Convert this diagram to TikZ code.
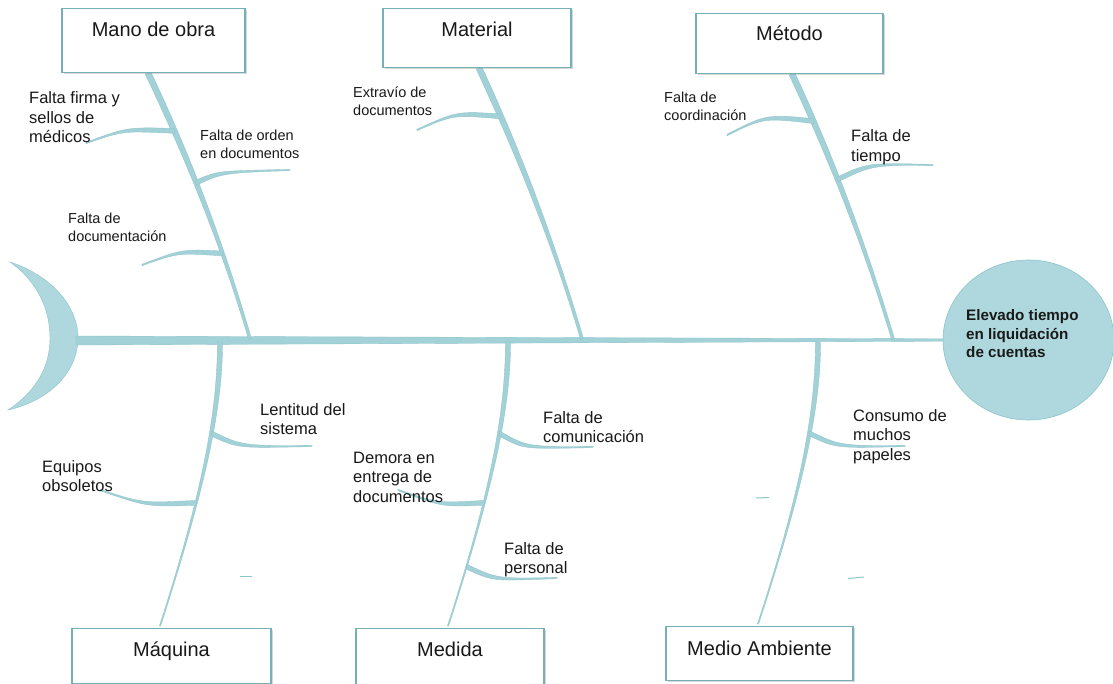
\documentclass[tikz,border=0pt]{standalone}
\usepackage{fontspec}
\setmainfont{Liberation Sans}
\usetikzlibrary{calc,shadows,shapes.geometric}
\definecolor{bonec}{RGB}{162,209,215}
\definecolor{boneedge}{RGB}{140,196,203}
\definecolor{headc}{RGB}{174,216,221}
\definecolor{boxedge}{RGB}{118,176,183}
\definecolor{txt}{RGB}{25,25,25}
\newcommand\taper[7]{%
  \fill[#1] let \p1=(#2), \p2=(#3), \p3=(#4), \p4=(#5),
    \n1={atan2(\y4-\y1,\x4-\x1)+90} in
    ($(\p1)+(\n1:#6)$) .. controls ($(\p2)+(\n1:#6)$) and ($(\p3)+(\n1:#7)$) .. ($(\p4)+(\n1:#7)$)
    -- ($(\p4)-(\n1:#7)$) .. controls ($(\p3)-(\n1:#7)$) and ($(\p2)-(\n1:#6)$) .. ($(\p1)-(\n1:#6)$) -- cycle;}
\begin{document}
\begin{tikzpicture}[x=1pt,y=-1pt,
  bonefill/.style={fill=bonec, draw=boneedge, line width=0.35pt},
  boxst/.style={draw=boxedge, line width=1.4pt, fill=white, inner sep=0pt, anchor=north,
    text height=14pt, font=\fontsize{20}{24}\selectfont, text=txt,
    drop shadow={shadow xshift=1.5pt, shadow yshift=-1.5pt, opacity=0.3, fill=gray}},
  lab/.style={anchor=base west, align=left, inner sep=0pt, text=txt, font=\fontsize{16.5}{19.5}\selectfont},
  labs/.style={anchor=base west, align=left, inner sep=0pt, text=txt, font=\fontsize{14.5}{17.5}\selectfont},
  dashst/.style={draw=boneedge, line width=1pt}]
\useasboundingbox (0,0) rectangle (1113,684);
\fill[white] (0,0) rectangle (1113,684);

% tail
\fill[headc, draw=boneedge, line width=0.4pt] (10,262) .. controls (50,275) and (78,305) .. (78,338)
  .. controls (78,370) and (52,400) .. (8,410) .. controls (38,390) and (50,365) .. (50,338)
  .. controls (50,310) and (38,282) .. (10,262) -- cycle;
\coordinate (tail) at (76,340.5);

% head
\node[ellipse, fill=headc, draw=boneedge, line width=0.6pt, minimum width=171pt, minimum height=160pt, inner sep=0pt] (head) at (1028.5,340) {};

% spine
\taper{bonefill}{tail}{tail}{head.west}{head.west}{4.5pt}{1.2pt}

% top bones
\coordinate (mano-s) at (148,73);
\coordinate (mano-c1) at (189.3,159.7);
\coordinate (mano-c2) at (223.3,247.3);
\coordinate (mano-j) at (250,339);
\path (mano-s) .. controls (mano-c1) and (mano-c2) .. (mano-j)
  coordinate[pos=0.222] (m1) coordinate[pos=0.419] (m2) coordinate[pos=0.685] (m3);
\taper{bonefill}{mano-s}{mano-c1}{mano-c2}{mano-j}{3pt}{1.5pt}

\coordinate (mat-s) at (479,68);
\coordinate (mat-c1) at (520.7,157.7);
\coordinate (mat-c2) at (555,247.3);
\coordinate (mat-j) at (582,339);
\path (mat-s) .. controls (mat-c1) and (mat-c2) .. (mat-j) coordinate[pos=0.18] (t1);
\taper{bonefill}{mat-s}{mat-c1}{mat-c2}{mat-j}{3pt}{1.5pt}

\coordinate (met-s) at (792,74);
\coordinate (met-c1) at (833,161.3);
\coordinate (met-c2) at (866,249.3);
\coordinate (met-j) at (893,339);
\path (met-s) .. controls (met-c1) and (met-c2) .. (met-j)
  coordinate[pos=0.1795] (t2) coordinate[pos=0.401] (t3);
\taper{bonefill}{met-s}{met-c1}{met-c2}{met-j}{3pt}{1.5pt}

% bottom bones
\coordinate (maq-s) at (220,342);
\coordinate (maq-c1) at (220,410);
\coordinate (maq-c2) at (204,490);
\coordinate (maq-e) at (160,626);
\path (maq-s) .. controls (maq-c1) and (maq-c2) .. (maq-e)
  coordinate[pos=0.405] (q1) coordinate[pos=0.653] (q2);
\taper{bonefill}{maq-s}{maq-c1}{maq-c2}{maq-e}{2.6pt}{0.6pt}

\coordinate (med-s) at (508,342);
\coordinate (med-c1) at (508,410);
\coordinate (med-c2) at (492,490);
\coordinate (med-e) at (448,626);
\path (med-s) .. controls (med-c1) and (med-c2) .. (med-e)
  coordinate[pos=0.405] (d1) coordinate[pos=0.653] (d2) coordinate[pos=0.845] (d3);
\taper{bonefill}{med-s}{med-c1}{med-c2}{med-e}{2.6pt}{0.6pt}

\coordinate (mam-s) at (818,342);
\coordinate (mam-c1) at (818,410);
\coordinate (mam-c2) at (802,490);
\coordinate (mam-e) at (758,624);
\path (mam-s) .. controls (mam-c1) and (mam-c2) .. (mam-e) coordinate[pos=0.405] (a1);
\taper{bonefill}{mam-s}{mam-c1}{mam-c2}{mam-e}{2.6pt}{0.6pt}

% ribs
\coordinate (r1) at (86,143);   \taper{bonefill}{m1}{125,129}{125,129}{r1}{2.4pt}{0.7pt}
\coordinate (r2) at (290,170);  \taper{bonefill}{m2}{220,172}{220,172}{r2}{2.4pt}{0.7pt}
\coordinate (r3) at (142,265);  \taper{bonefill}{m3}{180,251}{180,251}{r3}{2.4pt}{0.7pt}
\coordinate (r4) at (417,130);  \taper{bonefill}{t1}{455,113}{455,113}{r4}{2.4pt}{0.7pt}
\coordinate (r5) at (727,135);  \taper{bonefill}{t2}{765,116}{765,116}{r5}{2.4pt}{0.7pt}
\coordinate (r6) at (933,165);  \taper{bonefill}{t3}{870,164}{870,164}{r6}{2.4pt}{0.7pt}
\coordinate (r7) at (312,446);  \taper{bonefill}{q1}{240,447}{240,447}{r7}{2.4pt}{0.7pt}
\coordinate (r8) at (100,490);  \taper{bonefill}{q2}{145,505}{145,505}{r8}{2.4pt}{0.7pt}
\coordinate (r9) at (593,447);  \taper{bonefill}{d1}{525,448}{525,448}{r9}{2.4pt}{0.7pt}
\coordinate (r10) at (398,490); \taper{bonefill}{d2}{440,505}{440,505}{r10}{2.4pt}{0.7pt}
\coordinate (r11) at (557,578); \taper{bonefill}{d3}{495,580}{495,580}{r11}{2.4pt}{0.7pt}
\coordinate (r12) at (905,446); \taper{bonefill}{a1}{838,447}{838,447}{r12}{2.4pt}{0.7pt}

% small dashes
\draw[dashst] (240,576) -- (252,576);
\draw[dashst] (756,498) -- (769,497.5);
\draw[dashst] (848,578.5) -- (864,577);

% boxes
\node[boxst, minimum width=183pt, minimum height=64pt, text depth=22pt] (mano) at (153.5,8) {Mano de obra};
\node[boxst, minimum width=188pt, minimum height=59pt, text depth=17pt] (material) at (477,8) {Material};
\node[boxst, minimum width=187pt, minimum height=60pt, text depth=20pt] (metodo) at (789.5,13) {Método};
\node[boxst, minimum width=199pt, minimum height=55pt, text depth=13pt] (maquina) at (171.5,628) {Máquina};
\node[boxst, minimum width=188pt, minimum height=56pt, text depth=14pt] (medida) at (450,628) {Medida};
\node[boxst, minimum width=187pt, minimum height=54pt, text depth=10pt] (medio) at (759.5,626) {Medio Ambiente};

% head text (anchor base = last line)
\node[anchor=base west, align=left, inner sep=0pt, text=txt, font=\fontsize{15.2}{18.5}\selectfont\bfseries] (headtxt) at (966,357.5) {Elevado tiempo\\en liquidación\\de cuentas};

% labels (anchor base = last line)
\node[lab] (l1) at (29,143) {Falta firma y\\sellos de\\médicos};
\node[labs] (l2) at (200,158.5) {Falta de orden\\en documentos};
\node[labs] (l3) at (68,241.5) {Falta de\\documentación};
\node[labs] (l4) at (353,115.5) {Extravío de\\documentos};
\node[labs] (l5) at (664,120.5) {Falta de\\coordinación};
\node[lab] (l6) at (851,161.5) {Falta de\\tiempo};
\node[lab] (l7) at (260,434.5) {Lentitud del\\sistema};
\node[lab] (l8) at (42,491.5) {Equipos\\obsoletos};
\node[lab] (l9) at (353,502) {Demora en\\entrega de\\documentos};
\node[lab] (l10) at (543,442.5) {Falta de\\comunicación};
\node[lab] (l11) at (504,573.5) {Falta de\\personal};
\node[lab] (l12) at (853,460) {Consumo de\\muchos\\papeles};
\end{tikzpicture}
\end{document}
